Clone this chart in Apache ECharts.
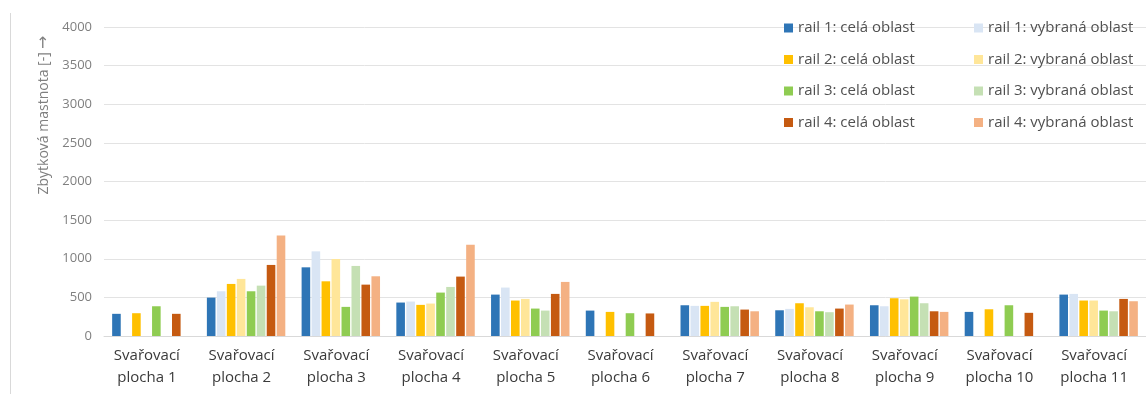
<!DOCTYPE html>
<html>
<head>
<meta charset="utf-8">
<script src="https://cdn.jsdelivr.net/npm/echarts@6/dist/echarts.min.js"></script>
<style>
  html, body { margin: 0; padding: 0; background: #fff; }
  #chart { width: 1146px; height: 394px; }
</style>
</head>
<body>
<div id="chart"></div>
<script>
// Residual oiliness per welding area, whole area vs selected area for four rails
const categories = [
  'Svařovací\nplocha 1', 'Svařovací\nplocha 2', 'Svařovací\nplocha 3', 'Svařovací\nplocha 4',
  'Svařovací\nplocha 5', 'Svařovací\nplocha 6', 'Svařovací\nplocha 7', 'Svařovací\nplocha 8',
  'Svařovací\nplocha 9', 'Svařovací\nplocha 10', 'Svařovací\nplocha 11'
];

const rail1Cela    = [287, 497, 889, 433, 536, 329, 398, 333, 398, 312, 536];
const rail1Vybrana = [null, 579, 1096, 446, 627, null, 390, 351, 385, null, 545];
const rail2Cela    = [295, 674, 708, 403, 459, 312, 390, 424, 489, 346, 459];
const rail2Vybrana = [null, 739, 997, 420, 480, null, 442, 372, 475, null, 459];
const rail3Cela    = [385, 579, 377, 562, 355, 295, 377, 320, 510, 398, 329];
const rail3Vybrana = [null, 652, 907, 635, 329, null, 385, 308, 424, null, 320];
const rail4Cela    = [287, 920, 665, 769, 545, 292, 342, 355, 320, 300, 480];
const rail4Vybrana = [null, 1302, 773, 1182, 700, null, 320, 407, 312, null, 450];

const yTicks = [0, 500, 1000, 1500, 2000, 2500, 3000, 3500, 4000];

const seriesDefs = [
  ['rail 1: celá oblast', rail1Cela, '#2e75b6'],
  ['rail 1: vybraná oblast', rail1Vybrana, '#d9e5f4'],
  ['rail 2: celá oblast', rail2Cela, '#ffc000'],
  ['rail 2: vybraná oblast', rail2Vybrana, '#ffe699'],
  ['rail 3: celá oblast', rail3Cela, '#8fcc52'],
  ['rail 3: vybraná oblast', rail3Vybrana, '#c5e0b4'],
  ['rail 4: celá oblast', rail4Cela, '#c55a11'],
  ['rail 4: vybraná oblast', rail4Vybrana, '#f4b183']
];

const FONT = '"Open Sans", sans-serif';

const legendBase = {
  orient: 'vertical',
  top: 15,
  itemWidth: 9,
  itemHeight: 9,
  itemGap: 15.5,
  icon: 'rect',
  selectedMode: false,
  textStyle: { fontFamily: FONT, fontSize: 15, color: '#505050', lineHeight: 16 }
};

const chart = echarts.init(document.getElementById('chart'), null, { renderer: 'canvas' });
chart.setOption({
  animation: false,
  backgroundColor: '#ffffff',
  color: seriesDefs.map(d => d[2]),
  legend: [
    Object.assign({}, legendBase, {
      left: 779,
      data: seriesDefs.filter((d, i) => i % 2 === 0).map(d => d[0])
    }),
    Object.assign({}, legendBase, {
      left: 969,
      data: seriesDefs.filter((d, i) => i % 2 === 1).map(d => d[0])
    })
  ],
  grid: { left: 104, right: -11, top: 27, bottom: 58, containLabel: false },
  xAxis: {
    type: 'category',
    data: categories,
    axisLine: { lineStyle: { color: '#d9d9d9' } },
    axisTick: { show: false },
    axisLabel: {
      interval: 0,
      fontFamily: FONT,
      fontSize: 15,
      color: '#3a3a3a',
      lineHeight: 22,
      margin: 9,
      padding: [0, 9, 0, 0]
    }
  },
  yAxis: {
    type: 'value',
    min: yTicks[0],
    max: yTicks[yTicks.length - 1],
    interval: 500,
    axisLine: { show: false },
    axisTick: { show: false },
    splitLine: { lineStyle: { color: '#e3e3e3', width: 1 } },
    axisLabel: {
      fontFamily: FONT,
      fontSize: 13,
      color: '#7f7f7f',
      margin: 12,
      formatter: v => String(v)
    }
  },
  graphic: [
    {
      type: 'line',
      shape: { x1: 10.5, y1: 13, x2: 10.5, y2: 394 },
      style: { stroke: '#d9d9d9', lineWidth: 1 }
    },
    {
      type: 'text',
      x: 44,
      y: 115,
      rotation: Math.PI / 2,
      style: {
        text: '{t|Zbytková mastnota [-]} {a|\u2192}',
        fill: '#7f7f7f',
        align: 'center',
        verticalAlign: 'middle',
        rich: {
          t: { fontFamily: FONT, fontSize: 14, fill: '#7f7f7f' },
          a: { fontFamily: '"DejaVu Sans", sans-serif', fontSize: 16, fill: '#7f7f7f' }
        }
      }
    }
  ],
  series: seriesDefs.map(d => ({
    name: d[0],
    type: 'bar',
    data: d[1],
    barWidth: 8.6,
    barGap: '16%',
    itemStyle: { color: d[2] }
  }))
});
</script>
</body>
</html>
